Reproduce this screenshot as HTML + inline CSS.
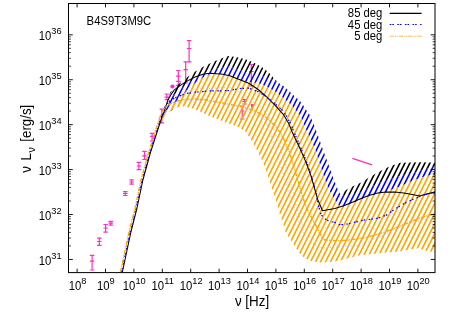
<!DOCTYPE html>
<html><head><meta charset="utf-8"><title>B4S9T3M9C SED</title>
<style>html,body{margin:0;padding:0;background:#fff;}svg{display:block;will-change:transform;}</style></head>
<body>
<svg width="458" height="321" viewBox="0 0 458 321">
<defs>
<clipPath id="cb"><polygon points="162.0,116.0 164.5,109.0 167.0,102.4 170.5,91.9 177.5,84.9 186.2,77.9 194.9,71.8 203.7,66.6 212.4,62.2 221.1,58.4 228.1,56.1 236.0,57.1 241.5,58.2 246.9,59.8 252.4,62.0 257.8,64.7 263.3,68.0 268.8,72.4 274.2,78.4 277.5,81.7 279.7,83.8 283.7,86.3 292.4,94.2 301.1,102.6 309.6,114.9 314.2,125.4 318.0,136.0 323.3,151.0 328.5,164.9 333.7,179.5 338.3,191.0 340.2,194.2 347.2,189.2 352.4,186.6 361.1,182.4 368.7,177.7 377.5,172.4 386.2,167.9 394.9,164.5 400.2,162.7 412.4,162.4 421.1,162.2 429.9,162.4 435.5,162.7 435.5,230.0 330.0,230.0 300.0,200.0 250.0,110.0 180.0,105.0"/></clipPath>
<clipPath id="cu"><polygon points="162.0,116.5 165.0,110.0 168.0,103.0 172.0,97.0 178.0,91.0 186.2,84.9 194.9,78.8 203.7,73.6 212.4,70.1 221.1,67.5 228.1,66.1 236.0,69.1 241.5,70.7 246.9,72.4 252.4,73.5 257.8,74.6 263.3,76.2 268.8,78.4 274.2,81.1 279.7,83.8 283.7,86.3 292.4,94.2 301.1,102.6 309.6,114.9 314.2,125.4 318.0,136.0 323.3,151.0 328.5,164.9 333.7,179.5 338.3,191.0 340.2,194.2 347.2,196.2 352.4,194.5 361.1,191.9 368.7,188.0 377.5,183.7 386.2,180.2 394.9,177.6 403.7,174.9 412.4,173.2 421.1,170.6 429.9,167.9 435.5,166.2 435.5,230.0 330.0,230.0 300.0,200.0 250.0,110.0 180.0,105.0"/></clipPath>
<clipPath id="co"><polygon points="162.0,117.0 166.0,111.0 171.0,105.0 177.5,100.7 186.2,91.0 194.9,83.2 203.7,77.1 210.7,73.9 216.2,74.2 221.1,74.6 229.9,76.6 236.0,79.0 240.0,80.6 248.7,82.3 257.5,83.0 266.2,86.4 274.9,91.5 283.7,98.2 292.4,106.2 301.1,116.7 306.2,130.0 310.5,138.7 315.7,151.0 320.1,164.9 324.5,178.5 329.7,191.0 334.9,199.7 339.3,206.0 343.7,206.8 352.4,203.3 361.1,199.6 368.7,196.6 377.5,194.0 386.2,192.3 394.9,188.1 400.2,186.4 405.4,183.7 412.4,181.1 421.1,177.6 429.9,175.2 435.5,174.1 435.5,252.6 426.4,250.8 417.6,248.2 412.4,249.1 403.7,250.8 394.9,252.0 386.2,252.6 377.5,253.4 368.7,254.3 360.0,255.2 351.1,257.4 340.0,260.6 329.9,261.9 321.1,262.6 312.4,261.4 305.4,258.4 300.3,254.4 294.9,246.4 290.6,239.7 285.7,232.5 283.3,224.1 279.7,213.7 276.2,201.4 272.8,191.0 269.4,180.5 265.9,170.2 262.7,161.4 257.5,151.0 250.5,138.7 245.2,131.5 240.0,128.0 235.1,125.8 226.4,122.8 217.6,119.3 208.9,115.8 200.2,111.4 191.4,107.9 182.7,106.2 174.0,107.9 167.0,113.2 162.0,120.5"/></clipPath>
<clipPath id="cf"><rect x="68.5" y="3.5" width="366.5" height="269.1"/></clipPath>
<mask id="mb" maskUnits="userSpaceOnUse" x="0" y="0" width="458" height="321"><polygon points="162.0,116.0 164.5,109.0 167.0,102.4 170.5,91.9 177.5,84.9 186.2,77.9 194.9,71.8 203.7,66.6 212.4,62.2 221.1,58.4 228.1,56.1 236.0,57.1 241.5,58.2 246.9,59.8 252.4,62.0 257.8,64.7 263.3,68.0 268.8,72.4 274.2,78.4 277.5,81.7 279.7,83.8 283.7,86.3 292.4,94.2 301.1,102.6 309.6,114.9 314.2,125.4 318.0,136.0 323.3,151.0 328.5,164.9 333.7,179.5 338.3,191.0 340.2,194.2 347.2,189.2 352.4,186.6 361.1,182.4 368.7,177.7 377.5,172.4 386.2,167.9 394.9,164.5 400.2,162.7 412.4,162.4 421.1,162.2 429.9,162.4 435.5,162.7 435.5,230.0 330.0,230.0 300.0,200.0 250.0,110.0 180.0,105.0" fill="#fff"/><polygon points="162.0,116.5 165.0,110.0 168.0,103.0 172.0,97.0 178.0,91.0 186.2,84.9 194.9,78.8 203.7,73.6 212.4,70.1 221.1,67.5 228.1,66.1 236.0,69.1 241.5,70.7 246.9,72.4 252.4,73.5 257.8,74.6 263.3,76.2 268.8,78.4 274.2,81.1 279.7,83.8 283.7,86.3 292.4,94.2 301.1,102.6 309.6,114.9 314.2,125.4 318.0,136.0 323.3,151.0 328.5,164.9 333.7,179.5 338.3,191.0 340.2,194.2 347.2,196.2 352.4,194.5 361.1,191.9 368.7,188.0 377.5,183.7 386.2,180.2 394.9,177.6 403.7,174.9 412.4,173.2 421.1,170.6 429.9,167.9 435.5,166.2 435.5,230.0 330.0,230.0 300.0,200.0 250.0,110.0 180.0,105.0" fill="#000"/><polygon points="162.0,117.0 166.0,111.0 171.0,105.0 177.5,100.7 186.2,91.0 194.9,83.2 203.7,77.1 210.7,73.9 216.2,74.2 221.1,74.6 229.9,76.6 236.0,79.0 240.0,80.6 248.7,82.3 257.5,83.0 266.2,86.4 274.9,91.5 283.7,98.2 292.4,106.2 301.1,116.7 306.2,130.0 310.5,138.7 315.7,151.0 320.1,164.9 324.5,178.5 329.7,191.0 334.9,199.7 339.3,206.0 343.7,206.8 352.4,203.3 361.1,199.6 368.7,196.6 377.5,194.0 386.2,192.3 394.9,188.1 400.2,186.4 405.4,183.7 412.4,181.1 421.1,177.6 429.9,175.2 435.5,174.1 435.5,252.6 426.4,250.8 417.6,248.2 412.4,249.1 403.7,250.8 394.9,252.0 386.2,252.6 377.5,253.4 368.7,254.3 360.0,255.2 351.1,257.4 340.0,260.6 329.9,261.9 321.1,262.6 312.4,261.4 305.4,258.4 300.3,254.4 294.9,246.4 290.6,239.7 285.7,232.5 283.3,224.1 279.7,213.7 276.2,201.4 272.8,191.0 269.4,180.5 265.9,170.2 262.7,161.4 257.5,151.0 250.5,138.7 245.2,131.5 240.0,128.0 235.1,125.8 226.4,122.8 217.6,119.3 208.9,115.8 200.2,111.4 191.4,107.9 182.7,106.2 174.0,107.9 167.0,113.2 162.0,120.5" fill="#000"/></mask>
<mask id="mu" maskUnits="userSpaceOnUse" x="0" y="0" width="458" height="321"><polygon points="162.0,116.5 165.0,110.0 168.0,103.0 172.0,97.0 178.0,91.0 186.2,84.9 194.9,78.8 203.7,73.6 212.4,70.1 221.1,67.5 228.1,66.1 236.0,69.1 241.5,70.7 246.9,72.4 252.4,73.5 257.8,74.6 263.3,76.2 268.8,78.4 274.2,81.1 279.7,83.8 283.7,86.3 292.4,94.2 301.1,102.6 309.6,114.9 314.2,125.4 318.0,136.0 323.3,151.0 328.5,164.9 333.7,179.5 338.3,191.0 340.2,194.2 347.2,196.2 352.4,194.5 361.1,191.9 368.7,188.0 377.5,183.7 386.2,180.2 394.9,177.6 403.7,174.9 412.4,173.2 421.1,170.6 429.9,167.9 435.5,166.2 435.5,230.0 330.0,230.0 300.0,200.0 250.0,110.0 180.0,105.0" fill="#fff"/><polygon points="162.0,117.0 166.0,111.0 171.0,105.0 177.5,100.7 186.2,91.0 194.9,83.2 203.7,77.1 210.7,73.9 216.2,74.2 221.1,74.6 229.9,76.6 236.0,79.0 240.0,80.6 248.7,82.3 257.5,83.0 266.2,86.4 274.9,91.5 283.7,98.2 292.4,106.2 301.1,116.7 306.2,130.0 310.5,138.7 315.7,151.0 320.1,164.9 324.5,178.5 329.7,191.0 334.9,199.7 339.3,206.0 343.7,206.8 352.4,203.3 361.1,199.6 368.7,196.6 377.5,194.0 386.2,192.3 394.9,188.1 400.2,186.4 405.4,183.7 412.4,181.1 421.1,177.6 429.9,175.2 435.5,174.1 435.5,252.6 426.4,250.8 417.6,248.2 412.4,249.1 403.7,250.8 394.9,252.0 386.2,252.6 377.5,253.4 368.7,254.3 360.0,255.2 351.1,257.4 340.0,260.6 329.9,261.9 321.1,262.6 312.4,261.4 305.4,258.4 300.3,254.4 294.9,246.4 290.6,239.7 285.7,232.5 283.3,224.1 279.7,213.7 276.2,201.4 272.8,191.0 269.4,180.5 265.9,170.2 262.7,161.4 257.5,151.0 250.5,138.7 245.2,131.5 240.0,128.0 235.1,125.8 226.4,122.8 217.6,119.3 208.9,115.8 200.2,111.4 191.4,107.9 182.7,106.2 174.0,107.9 167.0,113.2 162.0,120.5" fill="#000"/></mask>
</defs>
<rect width="458" height="321" fill="#fff"/>
<path d="M92.1 255.4V270.0M89.9 255.4H94.3M89.9 261.2H94.3M89.9 270.0H94.3M99.3 238.2V245.4M97.1 238.2H101.5M97.1 241.5H101.5M97.1 245.4H101.5M105.6 224.5V232.1M103.4 224.5H107.8M103.4 228.0H107.8M103.4 232.1H107.8M110.7 221.4V225.1M108.5 221.4H112.9M108.5 223.1H112.9M108.5 225.1H112.9M125.3 191.6V195.5M123.1 191.6H127.5M123.1 193.5H127.5M123.1 195.5H127.5M131.6 179.8V184.1M129.4 179.8H133.8M129.4 182.0H133.8M129.4 184.1H133.8M138.8 162.3V169.7M136.6 162.3H141.0M136.6 166.0H141.0M136.6 169.7H141.0M144.5 151.4V159.5M142.3 151.4H146.7M142.3 155.8H146.7M142.3 159.5H146.7M152.1 133.4V141.0M149.9 133.4H154.3M149.9 136.4H154.3M149.9 141.0H154.3M161.8 109.2V122.9M159.6 109.2H164.0M159.6 116.0H164.0M159.6 122.9H164.0M166.8 94.0V99.7M164.6 94.0H169.0M164.6 97.1H169.0M164.6 99.7H169.0M178.3 70.5V85.3M176.1 70.5H180.5M176.1 76.2H180.5M176.1 85.3H180.5M178.3 81.4V81.4M176.1 81.4H180.5M176.1 81.4H180.5M176.1 81.4H180.5M251.3 64.5V86.0M249.1 64.5H253.5M249.1 71.5H253.5M249.1 86.0H253.5M244.5 99.5V104.0M242.3 99.5H246.7M242.3 101.5H246.7M242.3 104.0H246.7M242.2 106.0V119.0M240.0 106.0H244.4M240.0 111.0H244.4M240.0 119.0H244.4M185.7 61.8V83.0M183.5 61.8H187.9M183.5 69.7H187.9M183.5 83.0H187.9M189.1 40.6V61.8M186.9 40.6H191.3M186.9 48.5H191.3M186.9 61.8H191.3" stroke="#ff2ec8" stroke-width="1.2" fill="none"/>
<circle cx="172.4" cy="86.5" r="2.1" fill="#ff2ec8"/>
<path d="M250.7 104H253.6L253 108.4H251.4Z" fill="#ff2ec8"/>
<path d="M352.4 158.3L372 164.9" stroke="#ff2ec8" stroke-width="1.3"/>
<g clip-path="url(#cf)">
<path mask="url(#mb)" d="M146.43 40.0L28.93 275.0M151.43 40.0L33.93 275.0M156.43 40.0L38.93 275.0M161.43 40.0L43.93 275.0M166.43 40.0L48.93 275.0M171.43 40.0L53.93 275.0M176.43 40.0L58.93 275.0M181.43 40.0L63.93 275.0M186.43 40.0L68.93 275.0M191.43 40.0L73.93 275.0M196.43 40.0L78.93 275.0M201.43 40.0L83.93 275.0M206.43 40.0L88.93 275.0M211.43 40.0L93.93 275.0M216.43 40.0L98.93 275.0M221.43 40.0L103.93 275.0M226.43 40.0L108.93 275.0M231.43 40.0L113.93 275.0M236.43 40.0L118.93 275.0M241.43 40.0L123.93 275.0M246.43 40.0L128.93 275.0M251.43 40.0L133.93 275.0M256.43 40.0L138.93 275.0M261.43 40.0L143.93 275.0M266.43 40.0L148.93 275.0M271.43 40.0L153.93 275.0M276.43 40.0L158.93 275.0M281.43 40.0L163.93 275.0M286.43 40.0L168.93 275.0M291.43 40.0L173.93 275.0M296.43 40.0L178.93 275.0M301.43 40.0L183.93 275.0M306.43 40.0L188.93 275.0M311.43 40.0L193.93 275.0M316.43 40.0L198.93 275.0M321.43 40.0L203.93 275.0M326.43 40.0L208.93 275.0M331.43 40.0L213.93 275.0M336.43 40.0L218.93 275.0M341.43 40.0L223.93 275.0M346.43 40.0L228.93 275.0M351.43 40.0L233.93 275.0M356.43 40.0L238.93 275.0M361.43 40.0L243.93 275.0M366.43 40.0L248.93 275.0M371.43 40.0L253.93 275.0M376.43 40.0L258.93 275.0M381.43 40.0L263.93 275.0M386.43 40.0L268.93 275.0M391.43 40.0L273.93 275.0M396.43 40.0L278.93 275.0M401.43 40.0L283.93 275.0M406.43 40.0L288.93 275.0M411.43 40.0L293.93 275.0M416.43 40.0L298.93 275.0M421.43 40.0L303.93 275.0M426.43 40.0L308.93 275.0M431.43 40.0L313.93 275.0M436.43 40.0L318.93 275.0M441.43 40.0L323.93 275.0M446.43 40.0L328.93 275.0M451.43 40.0L333.93 275.0M456.43 40.0L338.93 275.0M461.43 40.0L343.93 275.0M466.43 40.0L348.93 275.0M471.43 40.0L353.93 275.0M476.43 40.0L358.93 275.0M481.43 40.0L363.93 275.0M486.43 40.0L368.93 275.0M491.43 40.0L373.93 275.0M496.42 40.0L378.92 275.0M501.42 40.0L383.92 275.0M506.42 40.0L388.92 275.0M511.42 40.0L393.92 275.0M516.42 40.0L398.92 275.0M521.42 40.0L403.92 275.0M526.42 40.0L408.92 275.0M531.42 40.0L413.92 275.0M536.42 40.0L418.92 275.0M541.42 40.0L423.92 275.0M546.42 40.0L428.92 275.0M551.42 40.0L433.92 275.0M556.42 40.0L438.92 275.0" stroke="#000000" stroke-width="1.60" fill="none"/>
<path mask="url(#mu)" d="M146.43 40.0L28.93 275.0M151.43 40.0L33.93 275.0M156.43 40.0L38.93 275.0M161.43 40.0L43.93 275.0M166.43 40.0L48.93 275.0M171.43 40.0L53.93 275.0M176.43 40.0L58.93 275.0M181.43 40.0L63.93 275.0M186.43 40.0L68.93 275.0M191.43 40.0L73.93 275.0M196.43 40.0L78.93 275.0M201.43 40.0L83.93 275.0M206.43 40.0L88.93 275.0M211.43 40.0L93.93 275.0M216.43 40.0L98.93 275.0M221.43 40.0L103.93 275.0M226.43 40.0L108.93 275.0M231.43 40.0L113.93 275.0M236.43 40.0L118.93 275.0M241.43 40.0L123.93 275.0M246.43 40.0L128.93 275.0M251.43 40.0L133.93 275.0M256.43 40.0L138.93 275.0M261.43 40.0L143.93 275.0M266.43 40.0L148.93 275.0M271.43 40.0L153.93 275.0M276.43 40.0L158.93 275.0M281.43 40.0L163.93 275.0M286.43 40.0L168.93 275.0M291.43 40.0L173.93 275.0M296.43 40.0L178.93 275.0M301.43 40.0L183.93 275.0M306.43 40.0L188.93 275.0M311.43 40.0L193.93 275.0M316.43 40.0L198.93 275.0M321.43 40.0L203.93 275.0M326.43 40.0L208.93 275.0M331.43 40.0L213.93 275.0M336.43 40.0L218.93 275.0M341.43 40.0L223.93 275.0M346.43 40.0L228.93 275.0M351.43 40.0L233.93 275.0M356.43 40.0L238.93 275.0M361.43 40.0L243.93 275.0M366.43 40.0L248.93 275.0M371.43 40.0L253.93 275.0M376.43 40.0L258.93 275.0M381.43 40.0L263.93 275.0M386.43 40.0L268.93 275.0M391.43 40.0L273.93 275.0M396.43 40.0L278.93 275.0M401.43 40.0L283.93 275.0M406.43 40.0L288.93 275.0M411.43 40.0L293.93 275.0M416.43 40.0L298.93 275.0M421.43 40.0L303.93 275.0M426.43 40.0L308.93 275.0M431.43 40.0L313.93 275.0M436.43 40.0L318.93 275.0M441.43 40.0L323.93 275.0M446.43 40.0L328.93 275.0M451.43 40.0L333.93 275.0M456.43 40.0L338.93 275.0M461.43 40.0L343.93 275.0M466.43 40.0L348.93 275.0M471.43 40.0L353.93 275.0M476.43 40.0L358.93 275.0M481.43 40.0L363.93 275.0M486.43 40.0L368.93 275.0M491.43 40.0L373.93 275.0M496.42 40.0L378.92 275.0M501.42 40.0L383.92 275.0M506.42 40.0L388.92 275.0M511.42 40.0L393.92 275.0M516.42 40.0L398.92 275.0M521.42 40.0L403.92 275.0M526.42 40.0L408.92 275.0M531.42 40.0L413.92 275.0M536.42 40.0L418.92 275.0M541.42 40.0L423.92 275.0M546.42 40.0L428.92 275.0M551.42 40.0L433.92 275.0M556.42 40.0L438.92 275.0" stroke="#0000ff" stroke-width="1.60" fill="none"/>
<path clip-path="url(#co)" d="M146.43 40.0L28.93 275.0M151.43 40.0L33.93 275.0M156.43 40.0L38.93 275.0M161.43 40.0L43.93 275.0M166.43 40.0L48.93 275.0M171.43 40.0L53.93 275.0M176.43 40.0L58.93 275.0M181.43 40.0L63.93 275.0M186.43 40.0L68.93 275.0M191.43 40.0L73.93 275.0M196.43 40.0L78.93 275.0M201.43 40.0L83.93 275.0M206.43 40.0L88.93 275.0M211.43 40.0L93.93 275.0M216.43 40.0L98.93 275.0M221.43 40.0L103.93 275.0M226.43 40.0L108.93 275.0M231.43 40.0L113.93 275.0M236.43 40.0L118.93 275.0M241.43 40.0L123.93 275.0M246.43 40.0L128.93 275.0M251.43 40.0L133.93 275.0M256.43 40.0L138.93 275.0M261.43 40.0L143.93 275.0M266.43 40.0L148.93 275.0M271.43 40.0L153.93 275.0M276.43 40.0L158.93 275.0M281.43 40.0L163.93 275.0M286.43 40.0L168.93 275.0M291.43 40.0L173.93 275.0M296.43 40.0L178.93 275.0M301.43 40.0L183.93 275.0M306.43 40.0L188.93 275.0M311.43 40.0L193.93 275.0M316.43 40.0L198.93 275.0M321.43 40.0L203.93 275.0M326.43 40.0L208.93 275.0M331.43 40.0L213.93 275.0M336.43 40.0L218.93 275.0M341.43 40.0L223.93 275.0M346.43 40.0L228.93 275.0M351.43 40.0L233.93 275.0M356.43 40.0L238.93 275.0M361.43 40.0L243.93 275.0M366.43 40.0L248.93 275.0M371.43 40.0L253.93 275.0M376.43 40.0L258.93 275.0M381.43 40.0L263.93 275.0M386.43 40.0L268.93 275.0M391.43 40.0L273.93 275.0M396.43 40.0L278.93 275.0M401.43 40.0L283.93 275.0M406.43 40.0L288.93 275.0M411.43 40.0L293.93 275.0M416.43 40.0L298.93 275.0M421.43 40.0L303.93 275.0M426.43 40.0L308.93 275.0M431.43 40.0L313.93 275.0M436.43 40.0L318.93 275.0M441.43 40.0L323.93 275.0M446.43 40.0L328.93 275.0M451.43 40.0L333.93 275.0M456.43 40.0L338.93 275.0M461.43 40.0L343.93 275.0M466.43 40.0L348.93 275.0M471.43 40.0L353.93 275.0M476.43 40.0L358.93 275.0M481.43 40.0L363.93 275.0M486.43 40.0L368.93 275.0M491.43 40.0L373.93 275.0M496.42 40.0L378.92 275.0M501.42 40.0L383.92 275.0M506.42 40.0L388.92 275.0M511.42 40.0L393.92 275.0M516.42 40.0L398.92 275.0M521.42 40.0L403.92 275.0M526.42 40.0L408.92 275.0M531.42 40.0L413.92 275.0M536.42 40.0L418.92 275.0M541.42 40.0L423.92 275.0M546.42 40.0L428.92 275.0M551.42 40.0L433.92 275.0M556.42 40.0L438.92 275.0" stroke="#ffa500" stroke-width="1.60" fill="none"/>
<polyline points="178.0,103.0 186.0,100.8 200.0,100.6 212.4,101.8 240.0,107.9 255.0,113.5 265.5,120.0 270.0,132.0 274.6,146.2 281.2,167.1 287.7,188.0 290.5,195.0 294.8,209.0 298.3,221.2 302.7,231.6 308.8,240.4 318.4,247.2 324.9,247.8 342.4,246.7 360.0,245.6 377.5,237.7 394.9,229.8 412.4,222.9 429.9,217.6" fill="none" stroke="#b4b4ff" stroke-width="0.9" stroke-dasharray="1.2,1.8" opacity="0.85"/>
<polyline points="178.0,97.5 186.2,92.3 194.9,89.5 203.7,88.7 229.9,87.3 236.0,89.8 249.1,98.3 262.0,108.0 270.7,120.0 279.9,146.2 287.7,172.4 294.3,195.9 295.9,203.7 299.2,215.9 301.8,224.7 306.2,227.3 323.6,227.8 340.0,227.3 343.0,226.2 356.2,222.8 375.9,218.2 390.0,214.9 405.0,209.0 420.0,203.0" fill="none" stroke="#bdbdbd" stroke-width="0.9" stroke-dasharray="1.2,1.8" opacity="0.85"/>
<polyline points="122.4,272.0 130.9,232.0 137.0,208.0 142.9,180.0 150.3,153.0 159.3,125.0 161.8,117.5 164.0,112.0 166.2,105.2 167.9,100.0 170.5,95.4 174.0,90.2 181.0,84.9 188.0,80.6 195.0,77.1 203.7,73.9 210.7,73.2 216.2,73.7 221.1,74.1 229.9,75.8 236.0,78.2 240.0,79.8 248.7,83.3 257.5,89.0 266.2,96.5 274.9,105.2 283.7,114.9 288.9,123.7 292.0,131.5 295.3,138.7 300.3,149.2 305.6,161.4 310.8,175.4 313.3,184.0 317.8,199.7 322.5,210.7 334.9,208.4 343.7,205.8 352.4,202.3 361.1,198.6 368.7,195.6 377.5,193.0 386.2,192.1 394.9,192.1 403.7,193.0 412.4,194.6 419.4,196.0 426.4,193.9 435.1,192.1" fill="none" stroke="#000000" stroke-width="1.05" stroke-linejoin="round"/>
<polyline points="121.6,272.0 130.1,232.0 136.2,208.0 142.1,180.0 149.5,153.0 158.5,125.0 161.0,117.5 163.2,112.0 165.5,105.5 170.5,100.1 177.5,96.6 186.2,93.6 194.9,92.2 203.7,91.4 212.4,90.8 221.1,90.8 229.9,90.5 240.0,88.5 248.7,88.2 257.5,91.4 266.2,96.6 274.9,103.6 283.7,111.4 290.7,123.7 294.1,132.4 300.0,146.0 305.0,158.0 310.5,173.0 315.7,191.2 318.0,204.0 321.0,214.5 323.2,217.0 326.2,219.8 330.2,221.4 334.9,222.4 338.9,224.5 343.7,224.5 347.6,224.0 352.4,222.8 361.1,220.6 368.7,219.5 377.5,218.3 386.2,215.2 394.9,209.1 403.7,203.8 412.4,199.5 421.1,196.0 429.9,193.3 435.1,192.1" fill="none" stroke="#0000ff" stroke-width="1.25" stroke-dasharray="1.6,1,1.6,3.4" stroke-linejoin="round"/>
<polyline points="120.5,272.0 129.0,232.0 135.1,208.0 141.0,180.0 148.4,153.0 157.4,125.0 159.9,117.5 162.1,112.0 164.5,108.0 170.5,103.6 177.5,101.0 186.2,99.2 194.9,98.9 203.7,99.6 212.4,101.0 221.1,102.7 229.9,104.5 240.0,106.2 248.7,108.8 257.5,112.3 266.2,117.6 274.9,125.4 278.4,130.0 283.7,138.7 288.9,151.0 292.4,161.4 295.9,173.7 298.0,180.5 302.4,196.2 306.8,208.4 310.7,216.0 315.9,225.5 320.3,234.2 323.5,239.7 333.7,240.6 342.4,240.6 351.1,239.7 360.0,238.6 368.7,236.8 377.5,234.2 386.2,231.6 394.9,228.1 403.7,224.6 412.4,221.1 421.1,217.6 429.9,215.0 435.1,214.3" fill="none" stroke="#ffa500" stroke-width="1.35" stroke-dasharray="4.2,1.2,1.1,0.6,1.1,1.0" stroke-linejoin="round"/>
</g>
<rect x="68.5" y="3.5" width="366.5" height="269.1" fill="none" stroke="#000" stroke-width="1.0"/>
<path d="M77.10 272.6v-3.9M77.10 3.5v3.9M105.50 272.6v-3.9M105.50 3.5v3.9M133.90 272.6v-3.9M133.90 3.5v3.9M162.30 272.6v-3.9M162.30 3.5v3.9M190.70 272.6v-3.9M190.70 3.5v3.9M219.10 272.6v-3.9M219.10 3.5v3.9M247.50 272.6v-3.9M247.50 3.5v3.9M275.90 272.6v-3.9M275.90 3.5v3.9M304.30 272.6v-3.9M304.30 3.5v3.9M332.70 272.6v-3.9M332.70 3.5v3.9M361.10 272.6v-3.9M361.10 3.5v3.9M389.50 272.6v-3.9M389.50 3.5v3.9M417.90 272.6v-3.9M417.90 3.5v3.9M68.5 259.45h4.3M435.0 259.45h-4.3M68.5 214.52h4.3M435.0 214.52h-4.3M68.5 169.59h4.3M435.0 169.59h-4.3M68.5 124.66h4.3M435.0 124.66h-4.3M68.5 79.73h4.3M435.0 79.73h-4.3M68.5 34.80h4.3M435.0 34.80h-4.3" stroke="#000" stroke-width="0.9" fill="none"/>
<path d="M68.5 245.92h2.4M435.0 245.92h-2.4M68.5 238.01h2.4M435.0 238.01h-2.4M68.5 232.40h2.4M435.0 232.40h-2.4M68.5 228.05h2.4M435.0 228.05h-2.4M68.5 224.49h2.4M435.0 224.49h-2.4M68.5 221.48h2.4M435.0 221.48h-2.4M68.5 218.87h2.4M435.0 218.87h-2.4M68.5 216.58h2.4M435.0 216.58h-2.4M68.5 200.99h2.4M435.0 200.99h-2.4M68.5 193.08h2.4M435.0 193.08h-2.4M68.5 187.47h2.4M435.0 187.47h-2.4M68.5 183.12h2.4M435.0 183.12h-2.4M68.5 179.56h2.4M435.0 179.56h-2.4M68.5 176.55h2.4M435.0 176.55h-2.4M68.5 173.94h2.4M435.0 173.94h-2.4M68.5 171.65h2.4M435.0 171.65h-2.4M68.5 156.06h2.4M435.0 156.06h-2.4M68.5 148.15h2.4M435.0 148.15h-2.4M68.5 142.54h2.4M435.0 142.54h-2.4M68.5 138.19h2.4M435.0 138.19h-2.4M68.5 134.63h2.4M435.0 134.63h-2.4M68.5 131.62h2.4M435.0 131.62h-2.4M68.5 129.01h2.4M435.0 129.01h-2.4M68.5 126.72h2.4M435.0 126.72h-2.4M68.5 111.13h2.4M435.0 111.13h-2.4M68.5 103.22h2.4M435.0 103.22h-2.4M68.5 97.61h2.4M435.0 97.61h-2.4M68.5 93.26h2.4M435.0 93.26h-2.4M68.5 89.70h2.4M435.0 89.70h-2.4M68.5 86.69h2.4M435.0 86.69h-2.4M68.5 84.08h2.4M435.0 84.08h-2.4M68.5 81.79h2.4M435.0 81.79h-2.4M68.5 66.20h2.4M435.0 66.20h-2.4M68.5 58.29h2.4M435.0 58.29h-2.4M68.5 52.68h2.4M435.0 52.68h-2.4M68.5 48.33h2.4M435.0 48.33h-2.4M68.5 44.77h2.4M435.0 44.77h-2.4M68.5 41.76h2.4M435.0 41.76h-2.4M68.5 39.15h2.4M435.0 39.15h-2.4M68.5 36.86h2.4M435.0 36.86h-2.4" stroke="#000" stroke-width="0.75" fill="none"/>
<g font-family="Liberation Sans, sans-serif" fill="#000">
<g transform="translate(77.50,289.70) scale(0.950,1)"><text font-size="11.9" text-anchor="middle"><tspan>10</tspan><tspan dy="-6.1" font-size="9.8">8</tspan></text></g>
<g transform="translate(105.90,289.70) scale(0.950,1)"><text font-size="11.9" text-anchor="middle"><tspan>10</tspan><tspan dy="-6.1" font-size="9.8">9</tspan></text></g>
<g transform="translate(134.30,289.70) scale(0.950,1)"><text font-size="11.9" text-anchor="middle"><tspan>10</tspan><tspan dy="-6.1" font-size="9.8">10</tspan></text></g>
<g transform="translate(162.70,289.70) scale(0.950,1)"><text font-size="11.9" text-anchor="middle"><tspan>10</tspan><tspan dy="-6.1" font-size="9.8">11</tspan></text></g>
<g transform="translate(191.10,289.70) scale(0.950,1)"><text font-size="11.9" text-anchor="middle"><tspan>10</tspan><tspan dy="-6.1" font-size="9.8">12</tspan></text></g>
<g transform="translate(219.50,289.70) scale(0.950,1)"><text font-size="11.9" text-anchor="middle"><tspan>10</tspan><tspan dy="-6.1" font-size="9.8">13</tspan></text></g>
<g transform="translate(247.90,289.70) scale(0.950,1)"><text font-size="11.9" text-anchor="middle"><tspan>10</tspan><tspan dy="-6.1" font-size="9.8">14</tspan></text></g>
<g transform="translate(276.30,289.70) scale(0.950,1)"><text font-size="11.9" text-anchor="middle"><tspan>10</tspan><tspan dy="-6.1" font-size="9.8">15</tspan></text></g>
<g transform="translate(304.70,289.70) scale(0.950,1)"><text font-size="11.9" text-anchor="middle"><tspan>10</tspan><tspan dy="-6.1" font-size="9.8">16</tspan></text></g>
<g transform="translate(333.10,289.70) scale(0.950,1)"><text font-size="11.9" text-anchor="middle"><tspan>10</tspan><tspan dy="-6.1" font-size="9.8">17</tspan></text></g>
<g transform="translate(361.50,289.70) scale(0.950,1)"><text font-size="11.9" text-anchor="middle"><tspan>10</tspan><tspan dy="-6.1" font-size="9.8">18</tspan></text></g>
<g transform="translate(389.90,289.70) scale(0.950,1)"><text font-size="11.9" text-anchor="middle"><tspan>10</tspan><tspan dy="-6.1" font-size="9.8">19</tspan></text></g>
<g transform="translate(418.30,289.70) scale(0.950,1)"><text font-size="11.9" text-anchor="middle"><tspan>10</tspan><tspan dy="-6.1" font-size="9.8">20</tspan></text></g>
<g transform="translate(61.60,264.65) scale(0.950,1)"><text font-size="11.9" text-anchor="end"><tspan>10</tspan><tspan dy="-6.1" font-size="9.8">31</tspan></text></g>
<g transform="translate(61.60,219.72) scale(0.950,1)"><text font-size="11.9" text-anchor="end"><tspan>10</tspan><tspan dy="-6.1" font-size="9.8">32</tspan></text></g>
<g transform="translate(61.60,174.79) scale(0.950,1)"><text font-size="11.9" text-anchor="end"><tspan>10</tspan><tspan dy="-6.1" font-size="9.8">33</tspan></text></g>
<g transform="translate(61.60,129.86) scale(0.950,1)"><text font-size="11.9" text-anchor="end"><tspan>10</tspan><tspan dy="-6.1" font-size="9.8">34</tspan></text></g>
<g transform="translate(61.60,84.93) scale(0.950,1)"><text font-size="11.9" text-anchor="end"><tspan>10</tspan><tspan dy="-6.1" font-size="9.8">35</tspan></text></g>
<g transform="translate(61.60,40.00) scale(0.950,1)"><text font-size="11.9" text-anchor="end"><tspan>10</tspan><tspan dy="-6.1" font-size="9.8">36</tspan></text></g>
<g transform="translate(86.60,24.90) scale(0.950,1)"><text font-size="11.9" text-anchor="start">B4S9T3M9C</text></g>
<g transform="translate(382.40,17.40) scale(0.950,1)"><text font-size="11.9" text-anchor="end">85 deg</text></g>
<g transform="translate(382.40,28.80) scale(0.950,1)"><text font-size="11.9" text-anchor="end">45 deg</text></g>
<g transform="translate(382.40,40.30) scale(0.950,1)"><text font-size="11.9" text-anchor="end">5 deg</text></g>
<g transform="translate(252.00,305.80) scale(0.950,1)"><text font-size="14.1" text-anchor="middle">ν [Hz]</text></g>
<g transform="translate(31,0) rotate(-90)" font-size="14.1">
<g transform="translate(-172.7,0.0) scale(0.945,1)"><text font-size="14.1">ν</text></g>
<g transform="translate(-160.6,0.0) scale(0.945,1)"><text font-size="14.1">L</text></g>
<g transform="translate(-152.6,3.6) scale(0.945,1)"><text font-size="11.3">ν</text></g>
<g transform="translate(-141.7,0.0) scale(0.945,1)"><text font-size="14.1">[erg/s]</text></g>
</g>
</g>
<path d="M389.7 13.3H421.6" stroke="#000" stroke-width="1.15"/>
<path d="M389.7 24.5H421.6" stroke="#0000ff" stroke-width="1.0" stroke-dasharray="1.6,1,1.6,3.4"/>
<path d="M389.7 36.2H421.6" stroke="#ffa500" stroke-width="0.9" stroke-dasharray="4.2,1.2,1.1,0.6,1.1,1.0" opacity="0.85"/>
</svg>
</body></html>
